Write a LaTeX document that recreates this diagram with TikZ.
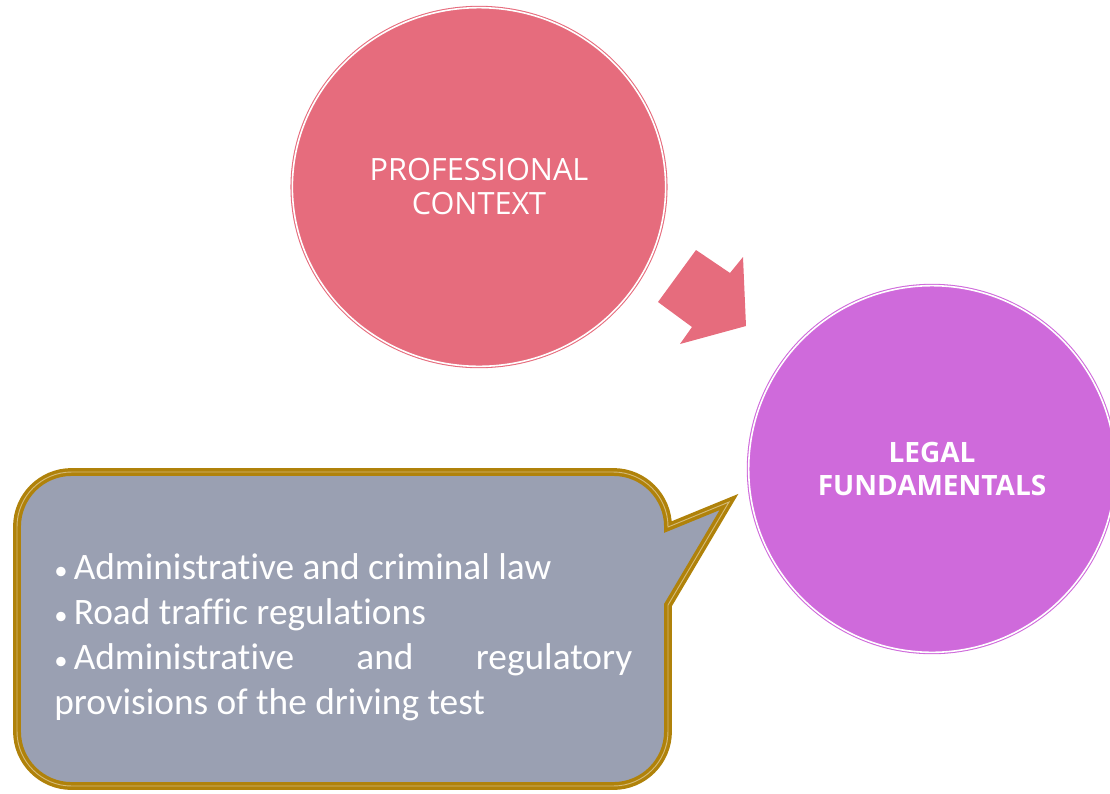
\documentclass[tikz,border=0pt]{standalone}
\usepackage{fontspec}
\setmainfont{Carlito}[Ligatures=NoCommon]
\newfontfamily\circlefont{Open Sans}
\usetikzlibrary{shapes.geometric}
\definecolor{rosa}{HTML}{E66C7D}
\definecolor{lila}{HTML}{CF6ADB}
\definecolor{gris}{HTML}{9AA0B2}
\definecolor{oro}{HTML}{B0820A}
\newcommand{\punto}{{\fontsize{20}{20}\selectfont•}\,}
\hyphenpenalty=10000
\exhyphenpenalty=10000
\tolerance=10000
\begin{document}
\begin{tikzpicture}[x=0.75pt,y=-0.75pt]
    \useasboundingbox (0,0) rectangle (1110,793);

    % Professional context
    \node[ellipse, fill=rosa, draw=rosa, double=white, double distance=1.2pt, line width=0.8pt,
          minimum width=280pt, minimum height=269pt, text=white, align=center,
          font=\circlefont\fontsize{23}{25.5}\selectfont] (context) at (479,187) {PROFESSIONAL\\CONTEXT};

    % Legal fundamentals
    \node[circle, fill=lila, draw=lila, double=white, double distance=1.2pt, line width=0.8pt,
          minimum size=275pt, text=white, align=center,
          font=\circlefont\bfseries\fontsize{21}{24.5}\selectfont] (legal) at (932,469) {LEGAL\\FUNDAMENTALS};

    % Block arrow
    \fill[rosa] (658,302) -- (696,250) -- (730,273) -- (743,257) -- (746,326) -- (680,344) -- (692,327) -- cycle;

    % Callout
    \draw[fill=gris, draw=oro, line width=2.6pt, double=oro!55!white, double distance=0.7pt]
        (668,700) [rounded corners=41pt] -- (668,786) -- (17,786) -- (17,472) -- (668,472)
        [sharp corners] -- (668,527) -- (729,502) -- (668,605) -- cycle;
    \node[anchor=north west, text width=433.5pt, align=justify, text=white, inner sep=0pt,
          font=\fontsize{28}{33.75}\selectfont] (items) at (54,553)
        {\punto Administrative and criminal law\par
         \punto Road traffic regulations\par
         \punto Administrative and regulatory provisions of the driving test};
\end{tikzpicture}
\end{document}
